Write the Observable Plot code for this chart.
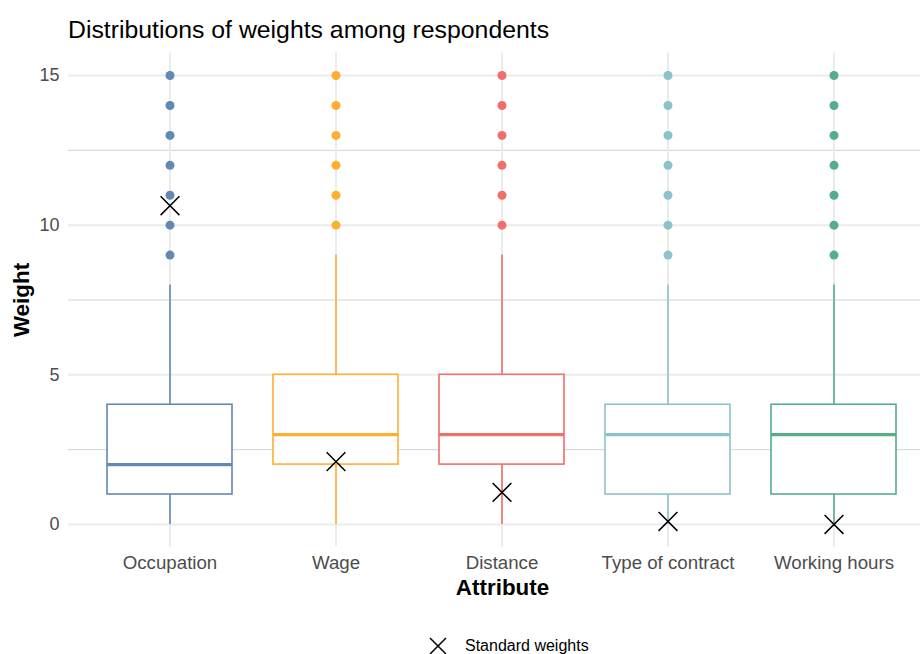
<!DOCTYPE html>
<html>
<head>
<meta charset="utf-8">
<script src="https://cdn.jsdelivr.net/npm/d3@7"></script>
<script src="https://cdn.jsdelivr.net/npm/@observablehq/plot@0.6"></script>
<style>
  html, body { margin: 0; padding: 0; background: #fff; }
  body { font-family: "Liberation Sans", Arial, sans-serif; }
  #wrap { position: relative; width: 920px; height: 654px; overflow: hidden; }
  #title { position: absolute; left: 68px; top: 17px; font-size: 24.8px; line-height: 25px; color: #000; white-space: nowrap; }
  #chart { position: absolute; left: 0; top: 0; }
  #legend { position: absolute; left: 428px; top: 636px; height: 20px; display: flex; align-items: center; font-size: 16px; color: #000; }
  #legend svg { margin-right: 17px; }
</style>
</head>
<body>
<div id="wrap">
  <div id="chart"></div>
  <div id="title">Distributions of weights among respondents</div>
  <div id="legend"><svg width="20" height="20" viewBox="-10 -10 20 20"><path d="M-8,-8L8,8M8,-8L-8,8" stroke="#000" stroke-width="1.5" fill="none"/></svg><span>Standard weights</span></div>
</div>
<script>
// ---- data ----
const attributes = ["Occupation", "Wage", "Distance", "Type of contract", "Working hours"];
const colors = ["#6388b4", "#ffae34", "#ef6f6a", "#8cc2ca", "#55ad89"];
const lowerWhisker = [0, 0, 0, 0, 0];
const q1 = [1, 2, 2, 1, 1];
const median = [2, 3, 3, 3, 3];
const q3 = [4, 5, 5, 4, 4];
const upperWhisker = [8, 9, 9, 8, 8];
const outlierValues = [
  [9, 10, 11, 12, 13, 14, 15],
  [10, 11, 12, 13, 14, 15],
  [10, 11, 12, 13, 14, 15],
  [9, 10, 11, 12, 13, 14, 15],
  [9, 10, 11, 12, 13, 14, 15]
];
const standardWeights = [10.65, 2.1, 1.07, 0.1, 0.0];
const yTicks = [0, 5, 10, 15];
const yMinor = [2.5, 7.5, 12.5];

// ---- derived tables ----
const stats = attributes.map((a, i) => ({
  attr: a, lo: lowerWhisker[i], q1: q1[i], med: median[i], q3: q3[i], hi: upperWhisker[i]
}));
const outliers = attributes.flatMap((a, i) => outlierValues[i].map(v => ({attr: a, v})));
const std = attributes.map((a, i) => ({attr: a, w: standardWeights[i]}));

const chart = Plot.plot({
  width: 920,
  height: 654,
  marginLeft: 68,
  marginRight: 0,
  marginTop: 52.6,
  marginBottom: 107.6,
  style: {fontFamily: "Liberation Sans, Arial, sans-serif", background: "white"},
  x: {type: "band", domain: attributes, range: [68, 935], paddingInner: 0.25, paddingOuter: 0.225},
  y: {domain: [-0.75, 15.75]},
  color: {domain: attributes, range: colors},
  marks: [
    Plot.ruleY(yMinor, {stroke: "#d3d3d3", strokeWidth: 1}),
    Plot.ruleY(yTicks, {stroke: "#ebebeb", strokeWidth: 2}),
    Plot.ruleX(attributes, {x: d => d, stroke: "#ebebeb", strokeWidth: 2}),
    Plot.ruleX(stats, {x: "attr", y1: "q3", y2: "hi", stroke: "attr", strokeWidth: 1.6}),
    Plot.ruleX(stats, {x: "attr", y1: "lo", y2: "q1", stroke: "attr", strokeWidth: 1.6}),
    Plot.barY(stats, {x: "attr", y1: "q1", y2: "q3", fill: "white", stroke: "attr", strokeWidth: 1.6}),
    Plot.tickY(stats, {x: "attr", y: "med", stroke: "attr", strokeWidth: 3.2}),
    Plot.dot(outliers, {x: "attr", y: "v", fill: "attr", r: 4.5}),
    Plot.dot(std, {x: "attr", y: "w", symbol: "times", r: 8.6, stroke: "black", strokeWidth: 1.5}),
    Plot.axisY({ticks: yTicks, tickSize: 0, tickPadding: 9, fontSize: 18, color: "#4d4d4d", label: null}),
    Plot.axisX({tickSize: 0, tickPadding: 9, fontSize: 18.7, color: "#4d4d4d", label: null}),
    Plot.text(["Attribute"], {frameAnchor: "bottom", dx: 8, dy: 48, fontWeight: "bold", fontSize: 22.4, fill: "black"}),
    Plot.text(["Weight"], {frameAnchor: "left", textAnchor: "middle", rotate: -90, dx: -47, fontWeight: "bold", fontSize: 22.4, fill: "black"})
  ]
});
document.getElementById("chart").appendChild(chart);
</script>
</body>
</html>
